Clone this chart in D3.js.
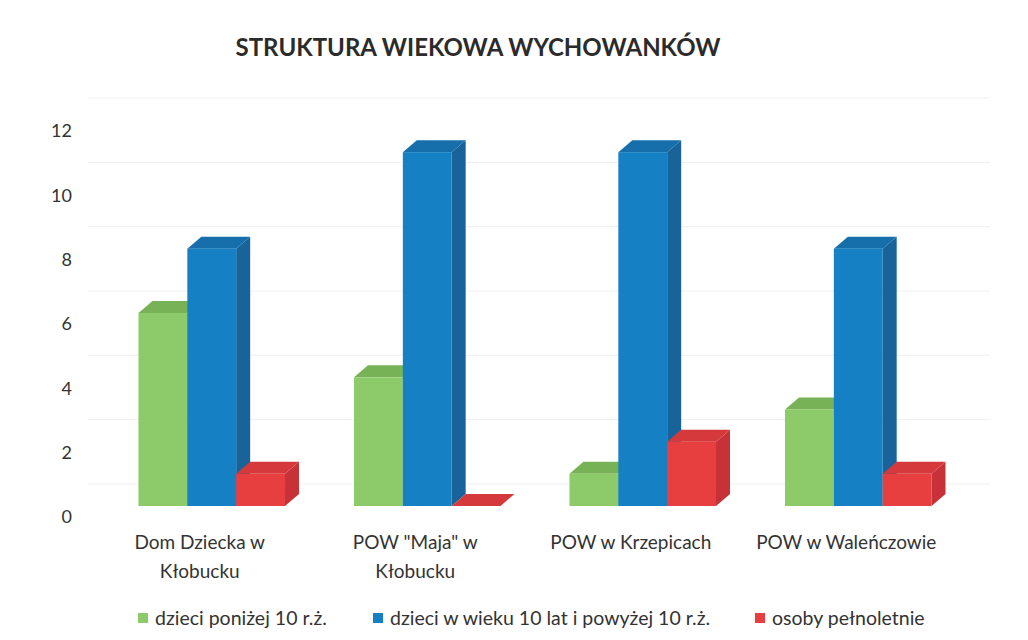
<!DOCTYPE html>
<html>
<head>
<meta charset="utf-8">
<script src="https://cdn.jsdelivr.net/npm/d3@7"></script>
<style>
  html, body { margin: 0; padding: 0; background: #fff; }
  svg { display: block; }
</style>
</head>
<body>
<svg id="chart" width="1028" height="640"></svg>
<script>
// ---- data ----
const title = "STRUKTURA WIEKOWA WYCHOWANKÓW";
const categories = [
  ["Dom Dziecka w", "Kłobucku"],
  ["POW \"Maja\" w", "Kłobucku"],
  ["POW w Krzepicach"],
  ["POW w Waleńczowie"]
];
const seriesNames = ["dzieci poniżej 10 r.ż.", "dzieci w wieku 10 lat i powyżej 10 r.ż.", "osoby pełnoletnie"];
const under10 = [6, 4, 1, 3];
const from10 = [8, 11, 11, 8];
const adults = [1, 0, 2, 1];
const yTicks = [0, 2, 4, 6, 8, 10, 12];

const seriesValues = [under10, from10, adults];
const colors = [
  { front: "#8dcb6a", side: "#76b058", top: "#77b356" },
  { front: "#1580c3", side: "#17639a", top: "#166fab" },
  { front: "#e73f40", side: "#c63237", top: "#d6393b" }
];

const svg = d3.select("#chart");
const catKeys = categories.map(c => c.join(" "));

// ---- scales ----
const y = d3.scaleLinear().domain([0, 12]).range([517, 131]);
const x = d3.scaleBand().domain(catKeys).range([104, 966]).paddingInner(0.32).paddingOuter(0.16);
const xs = d3.scaleBand().domain(d3.range(seriesNames.length)).range([0, x.bandwidth()]).padding(0);

const depthX = 14, depthY = -12;   // 3D projection offset
const frontShift = -11;            // front face sits below the back-wall labels
const gridShift = -33;             // back-wall gridlines

// ---- gridlines (back wall) ----
svg.append("g").selectAll("line").data(yTicks).join("line")
  .attr("x1", 88).attr("x2", 990)
  .attr("y1", d => y(d) + gridShift).attr("y2", d => y(d) + gridShift)
  .attr("stroke", "#f1f1f1").attr("stroke-width", 1.2);

// ---- y axis ----
const yAxis = d3.axisLeft(y).tickValues(yTicks).tickSize(0).tickPadding(4);
const ga = svg.append("g").attr("transform", "translate(76,0)").call(yAxis);
ga.select(".domain").remove();
ga.selectAll("text")
  .attr("font-family", "Lato, 'Open Sans', sans-serif")
  .attr("font-size", 18).attr("fill", "#333");

// ---- bars ----
const bars = [];
catKeys.forEach((c, i) => {
  seriesValues.forEach((vals, j) => bars.push({ c, j, v: vals[i] }));
});
const gb = svg.append("g");
bars.forEach(b => {
  const x0 = x(b.c) + xs(b.j);
  const w = xs.bandwidth();
  const yT = y(b.v) + frontShift;
  const yB = y(0) + frontShift;
  const col = colors[b.j];
  const g = gb.append("g");
  g.append("polygon")
    .attr("points", [[x0 + w, yT], [x0 + w + depthX, yT + depthY], [x0 + w + depthX, yB + depthY], [x0 + w, yB]].map(p => p.join(",")).join(" "))
    .attr("fill", col.side);
  g.append("polygon")
    .attr("points", [[x0, yT], [x0 + depthX, yT + depthY], [x0 + w + depthX, yT + depthY], [x0 + w, yT]].map(p => p.join(",")).join(" "))
    .attr("fill", col.top);
  g.append("rect")
    .attr("x", x0).attr("y", yT).attr("width", w).attr("height", yB - yT)
    .attr("fill", col.front);
});

// ---- category labels ----
const gl = svg.append("g")
  .attr("font-family", "Lato, 'Open Sans', sans-serif")
  .attr("font-size", 19).attr("fill", "#333").attr("text-anchor", "middle");
categories.forEach((lines, i) => {
  const cx = x(catKeys[i]) + x.bandwidth() / 2 - 12;
  lines.forEach((ln, k) => {
    gl.append("text").attr("x", cx).attr("y", 549 + k * 29).text(ln);
  });
});

// ---- title ----
svg.append("text")
  .attr("x", 478).attr("y", 56)
  .attr("text-anchor", "middle")
  .attr("font-family", "Lato, 'Open Sans', sans-serif")
  .attr("font-weight", "bold").attr("font-size", 24)
  .attr("fill", "#2b2b2b")
  .text(title);

// ---- legend ----
const legendX = [138, 373, 755];
const lg = svg.append("g")
  .attr("font-family", "Lato, 'Open Sans', sans-serif")
  .attr("font-size", 19.5).attr("fill", "#333");
seriesNames.forEach((name, j) => {
  lg.append("rect").attr("x", legendX[j]).attr("y", 613).attr("width", 10).attr("height", 10).attr("fill", colors[j].front);
  lg.append("text").attr("x", legendX[j] + 17).attr("y", 625).text(name);
});
</script>
</body>
</html>
